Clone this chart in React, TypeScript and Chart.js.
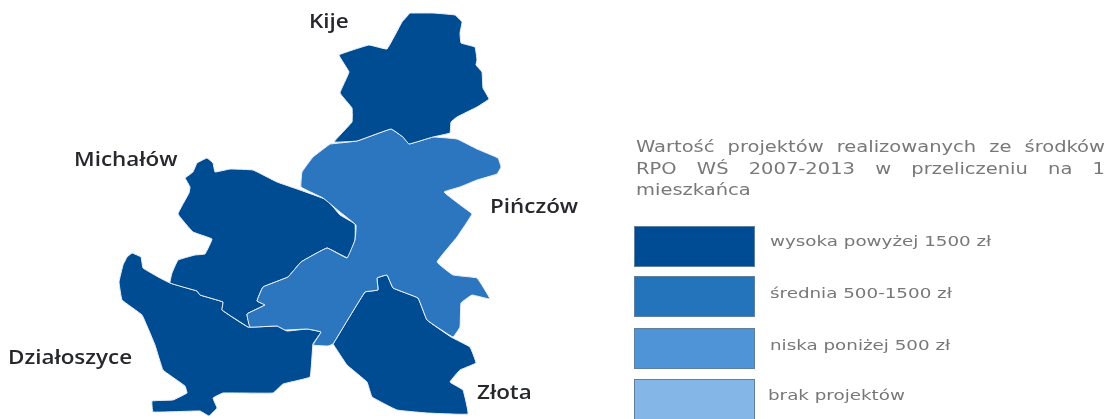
import React, { useEffect, useRef } from "react";
import { Chart, registerables } from "chart.js";

Chart.register(...registerables);

const W = 1109;
const H = 419;

type Pt = [number, number];

const kije: Pt[] = [[410,13],[433,13],[455,15],[462,22],[460,33],[461,43],[475,47],[477,60],[476,65],[482,72],[483,88],[489,99],[477,107],[457,117],[451,122],[450,133],[433,137],[409,144],[403,137],[391,129],[357,141],[334,142],[352,122],[352,108],[340,93],[349,72],[339,55],[369,45],[387,49],[402,22]];
const pinczow: Pt[] = [[330,144],[357,141],[391,129],[403,137],[409,144],[433,137],[457,139],[477,149],[498,158],[501,167],[497,174],[477,180],[460,187],[444,192],[463,207],[472,214],[457,237],[437,262],[453,275],[477,278],[490,299],[472,295],[461,303],[460,327],[453,337],[427,320],[418,298],[393,288],[387,275],[377,278],[378,290],[365,292],[333,344],[328,346],[313,345],[321,332],[307,329],[285,330],[277,326],[250,327],[247,314],[265,305],[257,301],[263,287],[288,277],[301,262],[327,248],[347,258],[355,240],[356,225],[340,212],[323,198],[301,187],[302,172],[313,157]];
const michalow: Pt[] = [[185,178],[193,172],[197,163],[207,158],[213,163],[215,172],[230,169],[253,170],[277,182],[300,190],[327,200],[340,215],[355,224],[355,240],[348,258],[327,248],[301,262],[288,277],[263,287],[257,301],[265,305],[247,314],[250,327],[248,327],[222,310],[223,302],[200,295],[197,291],[170,283],[172,273],[178,260],[195,255],[205,254],[212,239],[193,232],[178,214],[189,193],[190,187]];
const dzialoszyce: Pt[] = [[127,257],[132,253],[141,257],[143,268],[160,278],[170,283],[197,291],[200,295],[223,302],[222,310],[248,327],[277,326],[287,331],[307,329],[321,332],[313,344],[310,377],[283,384],[273,393],[223,393],[213,398],[217,408],[209,416],[200,411],[153,412],[152,401],[173,400],[187,393],[185,386],[163,370],[155,345],[142,315],[122,300],[119,282],[123,265]];
const zlota: Pt[] = [[333,344],[365,292],[378,290],[377,278],[387,275],[393,288],[418,298],[427,320],[451,337],[470,347],[476,363],[460,370],[450,382],[463,390],[468,414],[427,413],[397,410],[372,397],[367,382],[347,365]];

const regions = [
  { name: "Kije", shape: kije, color: "#004c93" },
  { name: "Pińczów", shape: pinczow, color: "#2b76bf" },
  { name: "Michałów", shape: michalow, color: "#004c93" },
  { name: "Działoszyce", shape: dzialoszyce, color: "#004c93" },
  { name: "Złota", shape: zlota, color: "#004c93" },
];

const placeLabels = ["Kije", "Michałów", "Pińczów", "Działoszyce", "Złota"];
const placeX = [309, 74, 490, 8, 477];
const placeY = [28, 166, 213, 364, 399];

const titleLines = ["Wartość projektów realizowanych ze środków", "RPO WŚ 2007-2013 w przeliczeniu na 1", "mieszkańca"];
const titleY = [152, 174, 195];
const legendLabels = ["wysoka powyżej 1500 zł", "średnia 500-1500 zł", "niska poniżej 500 zł", "brak projektów"];
const legendColors = ["#004c94", "#2474bc", "#5094d8", "#84b6e8"];
const legendBoxY = [226, 276, 328, 379];
const legendTextX = [770, 770, 770, 768];
const legendTextY = [246, 297.5, 349.5, 400];

function stretched(ctx: CanvasRenderingContext2D, t: string, x: number, y: number, sx: number) {
  ctx.save();
  ctx.translate(x, y);
  ctx.scale(sx, 1);
  ctx.fillText(t, 0, 0);
  ctx.restore();
}

const textPlugin = {
  id: "mapText",
  afterDraw(chart: any) {
    const ctx = chart.ctx as CanvasRenderingContext2D;
    ctx.save();
    ctx.textBaseline = "alphabetic";
    ctx.textAlign = "left";
    ctx.font = "600 19.5px 'Open Sans'";
    ctx.fillStyle = "#26282c";
    placeLabels.forEach((t, i) => stretched(ctx, t, placeX[i], placeY[i], 1.15));

    ctx.font = "15px 'DejaVu Sans'";
    ctx.fillStyle = "#787878";
    const left = 636;
    const right = 1105;
    const sx = 1.3;
    titleLines.forEach((line, i) => {
      const y = titleY[i];
      if (i === titleLines.length - 1) {
        stretched(ctx, line, left, y, sx);
        return;
      }
      const words = line.split(" ");
      const total = words.reduce((s, w) => s + ctx.measureText(w).width * sx, 0);
      const gap = (right - left - total) / (words.length - 1);
      let x = left;
      words.forEach((w) => {
        stretched(ctx, w, x, y, sx);
        x += ctx.measureText(w).width * sx + gap;
      });
    });

    legendLabels.forEach((t, i) => {
      ctx.fillStyle = legendColors[i];
      ctx.strokeStyle = "#5f7f9f";
      ctx.lineWidth = 1;
      ctx.fillRect(634, legendBoxY[i], 121, 40);
      ctx.strokeRect(634.5, legendBoxY[i] + 0.5, 120, 40);
      ctx.fillStyle = "#787878";
      ctx.font = "13.5px 'DejaVu Sans'";
      stretched(ctx, t, legendTextX[i], legendTextY[i], 1.355);
    });
    ctx.restore();
  },
};

export default function App() {
  const ref = useRef<HTMLCanvasElement>(null);
  useEffect(() => {
    const chart = new Chart(ref.current!, {
      type: "scatter",
      data: {
        datasets: regions.map((r) => ({
          label: r.name,
          data: [...r.shape, r.shape[0]].map(([x, y]) => ({ x, y })),
          showLine: true,
          fill: "shape",
          backgroundColor: r.color,
          borderColor: "#e8eef5",
          borderWidth: 1,
          tension: 0.07,
          pointRadius: 0,
          pointHoverRadius: 0,
        })),
      },
      options: {
        responsive: false,
        animation: false,
        layout: { padding: 0 },
        plugins: { legend: { display: false }, tooltip: { enabled: false }, title: { display: false } },
        scales: {
          x: { type: "linear", min: 0, max: W, display: false },
          y: { type: "linear", min: 0, max: H, reverse: true, display: false },
        },
      },
      plugins: [textPlugin],
    } as any);
    return () => chart.destroy();
  }, []);
  return (
    <canvas
      ref={ref}
      width={W}
      height={H}
      style={{ position: "fixed", left: 0, top: 0, width: W, height: H, filter: "blur(0.7px)" }}
    />
  );
}
